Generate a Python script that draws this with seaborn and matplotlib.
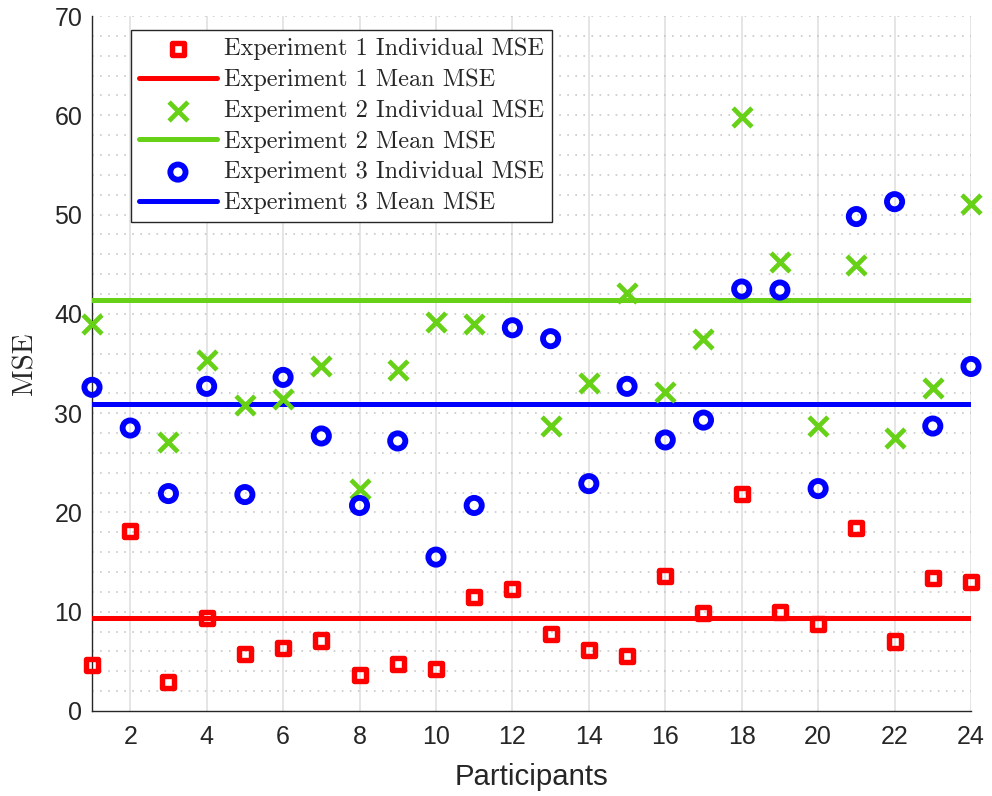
import numpy as np
import pandas as pd
import matplotlib
matplotlib.use("Agg")
import matplotlib.pyplot as plt
import seaborn as sns

# Per-participant mean squared error for each experiment
participants = list(range(1, 25))
exp1_mse = [4.6, 18.1, 2.9, 9.4, 5.7, 6.3, 7.1, 3.6, 4.7, 4.2, 11.5, 12.3,
            7.8, 6.1, 5.5, 13.6, 9.9, 21.9, 10.0, 8.8, 18.4, 7.0, 13.4, 13.0]
exp2_mse = [39.0, 96.0, 27.1, 35.4, 30.8, 31.4, 34.7, 22.4, 34.3, 39.2, 39.0, 101.2,
            28.7, 33.0, 42.1, 32.1, 37.5, 59.8, 45.2, 28.7, 44.9, 27.5, 32.5, 51.1]
exp3_mse = [32.6, 28.5, 21.9, 32.7, 21.8, 33.6, 27.7, 20.7, 27.2, 15.5, 20.7, 38.6,
            37.5, 22.9, 32.7, 27.3, 29.3, 42.5, 42.4, 22.4, 49.8, 51.3, 28.7, 34.7]
x_ticks = list(range(2, 25, 2))
y_ticks = list(range(0, 71, 10))

experiments = ["Experiment 1", "Experiment 2", "Experiment 3"]
colors = ["#ff0000", "#66d117", "#0000ff"]
markers = ["s", "x", "o"]
marker_sizes = [75, 185, 120]
marker_lw = [3.9, 3.4, 4.2]

df = pd.DataFrame({"participant": participants,
                   "Experiment 1": exp1_mse,
                   "Experiment 2": exp2_mse,
                   "Experiment 3": exp3_mse})

sns.set_theme(style="white")
plt.rcParams["font.family"] = ["Liberation Sans", "DejaVu Sans"]
plt.rcParams["lines.scale_dashes"] = False

fig = plt.figure(figsize=(9.92, 7.96), dpi=100)
ax = fig.add_axes([92 / 992, 1 - 711 / 796, (971 - 92) / 992, (711 - 16) / 796])

axis_col = "#262626"

# grid: solid vertical at x ticks, dotted horizontal every 2 units
for xv in x_ticks:
    ax.axvline(xv, color="#dedede", lw=1.1, zorder=0)
for yv in range(2, 71, 2):
    ax.axhline(yv, color="#c4c4c4", lw=1.1, ls=(0, (1.2, 4.6)), zorder=0)

for name, col, mk, s, lw in zip(experiments, colors, markers, marker_sizes, marker_lw):
    vals = df[name]
    if mk == "x":
        sns.scatterplot(x=df["participant"], y=vals, marker=mk, s=s, color=col,
                        linewidth=lw, ax=ax, clip_on=False, zorder=4,
                        label=f"{name} Individual MSE", legend=False)
    else:
        sns.scatterplot(x=df["participant"], y=vals, marker=mk, s=s, color=col,
                        facecolor="none", edgecolor=col, linewidth=lw, ax=ax,
                        clip_on=False, zorder=4,
                        label=f"{name} Individual MSE", legend=False)
    mean_val = float(np.mean(vals))
    mean_df = pd.DataFrame({"participant": [min(participants), max(participants)],
                            "mse": [mean_val, mean_val]})
    sns.lineplot(data=mean_df, x="participant", y="mse", color=col, lw=3.6, ax=ax,
                 zorder=3, label=f"{name} Mean MSE", legend=False)

ax.set_xlim(1, 24)
ax.set_ylim(0, 70)
ax.set_xticks(x_ticks)
ax.set_yticks(y_ticks)
ax.tick_params(direction="in", length=5.5, width=0.8, color=axis_col,
               labelcolor=axis_col, labelsize=18, pad=10)
ax.tick_params(axis="y", pad=7)
for side in ["top", "right"]:
    ax.spines[side].set_visible(False)
for side in ["left", "bottom"]:
    ax.spines[side].set_color(axis_col)
    ax.spines[side].set_linewidth(1.0)

ax.set_xlabel("Participants", fontsize=21.2, color=axis_col, labelpad=10)
ax.set_ylabel("MSE", fontsize=21, family="cmr10", color=axis_col, labelpad=11)

h, l = ax.get_legend_handles_labels()
leg = ax.legend(h, l, loc="upper left", bbox_to_anchor=(0.0444, 0.980),
                borderaxespad=0, frameon=True, fancybox=False, framealpha=1,
                edgecolor=axis_col, prop={"family": "cmr10", "size": 17.5},
                handlelength=3.2, handletextpad=0.3, labelspacing=0.34,
                borderpad=0.33, scatterpoints=1)
leg.get_frame().set_linewidth(1.0)
leg.set_zorder(10)

fig.savefig("out.png", dpi=100)
